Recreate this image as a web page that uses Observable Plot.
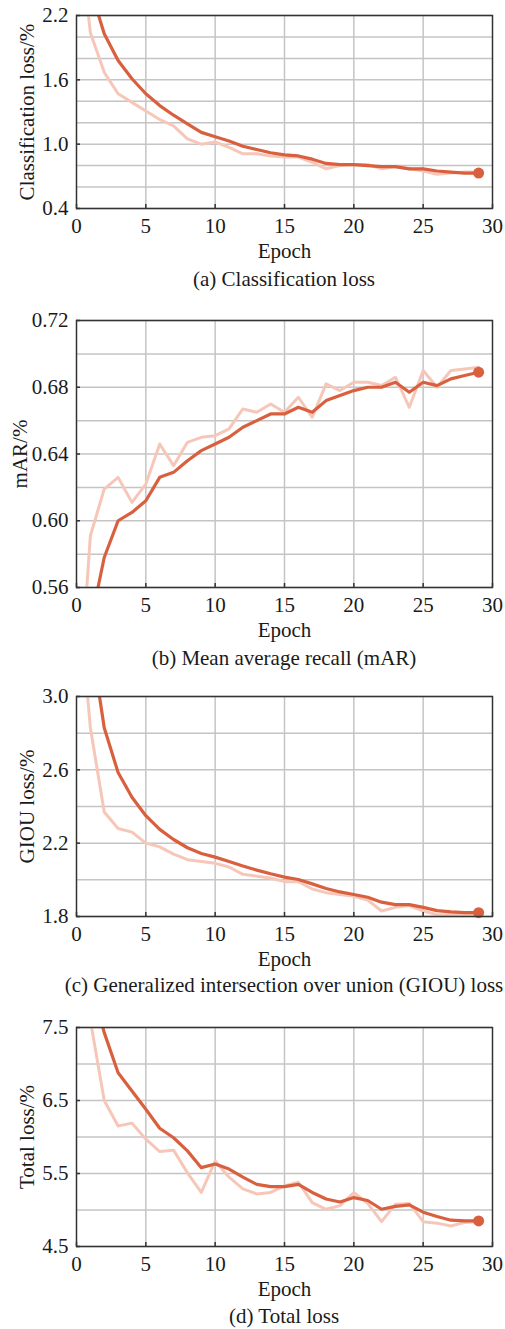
<!DOCTYPE html>
<html><head><meta charset="utf-8">
<script src="https://cdn.jsdelivr.net/npm/d3@7"></script>
<script src="https://cdn.jsdelivr.net/npm/@observablehq/plot@0.6"></script>
<style>
body{margin:0;background:#fff;}
#wrap{position:relative;width:505px;height:1329px;overflow:hidden;font-family:"Liberation Serif","Times New Roman",serif;background:#fff;}
.panel{position:absolute;left:0;}
.cap{position:absolute;left:0;width:568px;text-align:center;font-size:21px;line-height:24px;white-space:nowrap;color:#1a1a1a;}
</style></head><body><div id="wrap"></div>
<script>
// ---- data ----
const epochsRaw = [0,1,2,3,4,5,6,7,8,9,10,11,12,13,14,15,16,17,18,19,20,21,22,23,24,25,26,27,28,29];
const epochsSmooth = [1,2,3,4,5,6,7,8,9,10,11,12,13,14,15,16,17,18,19,20,21,22,23,24,25,26,27,28,29];

const clsRaw = [3.2,2.04,1.67,1.47,1.39,1.31,1.23,1.17,1.05,1.00,1.02,0.97,0.91,0.91,0.89,0.88,0.88,0.83,0.77,0.80,0.81,0.81,0.77,0.79,0.77,0.75,0.72,0.73,0.74,0.74];
const clsSmooth = [2.45,2.03,1.78,1.61,1.47,1.36,1.27,1.19,1.11,1.07,1.03,0.98,0.95,0.92,0.90,0.89,0.86,0.82,0.81,0.81,0.80,0.79,0.79,0.77,0.77,0.75,0.74,0.73,0.73];

const marRaw = [0.47,0.591,0.619,0.626,0.611,0.622,0.646,0.633,0.647,0.650,0.651,0.655,0.667,0.665,0.670,0.665,0.674,0.662,0.682,0.678,0.683,0.683,0.681,0.686,0.668,0.690,0.680,0.690,0.691,0.692];
const marSmooth = [0.538,0.578,0.600,0.605,0.612,0.626,0.629,0.636,0.642,0.646,0.650,0.656,0.660,0.664,0.664,0.668,0.665,0.672,0.675,0.678,0.680,0.680,0.683,0.677,0.683,0.681,0.685,0.687,0.689];

const giouRaw = [3.68,2.83,2.37,2.28,2.26,2.20,2.18,2.14,2.11,2.10,2.09,2.07,2.03,2.02,2.01,1.99,1.99,1.95,1.93,1.92,1.91,1.89,1.83,1.85,1.86,1.83,1.81,1.81,1.81,1.81];
const giouSmooth = [3.33,2.83,2.585,2.45,2.35,2.275,2.22,2.175,2.144,2.124,2.10,2.075,2.053,2.033,2.015,2.002,1.978,1.953,1.934,1.92,1.905,1.878,1.865,1.865,1.85,1.832,1.825,1.821,1.821];

const totalRaw = [9.5,7.6,6.50,6.15,6.19,5.97,5.80,5.82,5.51,5.24,5.67,5.45,5.29,5.22,5.24,5.33,5.38,5.10,5.01,5.06,5.24,5.09,4.84,5.08,5.09,4.84,4.82,4.78,4.83,4.84];
const totalSmooth = [8.13,7.43,6.88,6.63,6.38,6.12,5.99,5.81,5.58,5.63,5.56,5.45,5.35,5.32,5.32,5.35,5.24,5.15,5.11,5.17,5.13,5.01,5.05,5.07,4.97,4.91,4.86,4.85,4.85];

const xTicks = [0,5,10,15,20,25,30];
const xGrid = [5,10,15,20,25];

const clsTicks = [0.4,1.0,1.6,2.2];
const clsGrid = [0.4,0.6,0.8,1.0,1.2,1.4,1.6,1.8,2.0,2.2];
const marTicks = [0.56,0.60,0.64,0.68,0.72];
const marGrid = [0.56,0.58,0.60,0.62,0.64,0.66,0.68,0.70,0.72];
const giouTicks = [1.8,2.2,2.6,3.0];
const giouGrid = [1.8,2.0,2.2,2.4,2.6,2.8,3.0];
const totalTicks = [4.5,5.5,6.5,7.5];
const totalGrid = [4.5,5.0,5.5,6.0,6.5,7.0,7.5];

const yLabels = ["Classification loss/%","mAR/%","GIOU loss/%","Total loss/%"];
const captions = ["(a) Classification loss","(b) Mean average recall (mAR)","(c) Generalized intersection over union (GIOU) loss","(d) Total loss"];

// ---- layout ----
const W = 505, ML = 76, MR = 13, MT = 15, MB = 62;
const darkColor = "#d9603f", lightColor = "#f6c7b8", gridColor = "#c4c4c4", frameColor = "#333";
const FONT = "'Liberation Serif','Times New Roman',serif";

const panels = [
  {raw: clsRaw, smooth: clsSmooth, ticks: clsTicks, grid: clsGrid, fmt: ".1f", top: 0, ph: 193, cap: 279, lo: 57},
  {raw: marRaw, smooth: marSmooth, ticks: marTicks, grid: marGrid, fmt: ".2f", top: 305, ph: 267, cap: 658, lo: 64},
  {raw: giouRaw, smooth: giouSmooth, ticks: giouTicks, grid: giouGrid, fmt: ".1f", top: 681, ph: 220, cap: 985, lo: 57},
  {raw: totalRaw, smooth: totalSmooth, ticks: totalTicks, grid: totalGrid, fmt: ".1f", top: 1012, ph: 219, cap: 1316, lo: 57}
];

const wrap = document.getElementById("wrap");
panels.forEach((p, i) => {
  const rawData = epochsRaw.map((e, j) => ({epoch: e, value: p.raw[j]}));
  const smoothData = epochsSmooth.map((e, j) => ({epoch: e, value: p.smooth[j]}));
  const last = smoothData.slice(-1);
  const pw = W - ML - MR;
  const chart = Plot.plot({
    width: W, height: MT + p.ph + MB,
    marginLeft: ML, marginRight: MR, marginTop: MT, marginBottom: MB,
    style: {fontFamily: FONT, fontSize: "21px", color: "#1a1a1a", background: "transparent", overflow: "visible"},
    x: {domain: [0, 30]},
    y: {domain: [p.grid[0], p.grid[p.grid.length - 1]]},
    marks: [
      Plot.gridX(xGrid, {stroke: gridColor, strokeOpacity: 1, strokeWidth: 1.5}),
      Plot.gridY(p.grid, {stroke: gridColor, strokeOpacity: 1, strokeWidth: 1.5}),
      Plot.line(rawData, {x: "epoch", y: "value", stroke: lightColor, strokeWidth: 3, clip: true}),
      Plot.line(smoothData, {x: "epoch", y: "value", stroke: darkColor, strokeWidth: 3.2, clip: true}),
      Plot.dot(last, {x: "epoch", y: "value", r: 5.5, fill: darkColor}),
      Plot.frame({stroke: frameColor, strokeWidth: 1.5}),
      Plot.tickY(p.ticks, {y: d => d, stroke: frameColor, strokeWidth: 1.5, insetRight: pw - 4}),
      Plot.tickX(xTicks, {x: d => d, stroke: frameColor, strokeWidth: 1.5, insetTop: p.ph - 4}),
      Plot.axisX(xTicks, {tickSize: 0, tickPadding: 10, fontFamily: FONT, label: "Epoch", labelAnchor: "center", labelArrow: "none", labelOffset: 49}),
      Plot.axisY(p.ticks, {tickSize: 0, tickPadding: 8, fontFamily: FONT, tickFormat: d3.format(p.fmt), label: yLabels[i], labelAnchor: "center", labelArrow: "none", labelOffset: p.lo})
    ]
  });
  const div = document.createElement("div");
  div.className = "panel";
  div.style.top = p.top + "px";
  div.appendChild(chart);
  wrap.appendChild(div);
  const cap = document.createElement("div");
  cap.className = "cap";
  cap.style.top = (p.cap - 12) + "px";
  cap.textContent = captions[i];
  wrap.appendChild(cap);
});
</script>
</body></html>
